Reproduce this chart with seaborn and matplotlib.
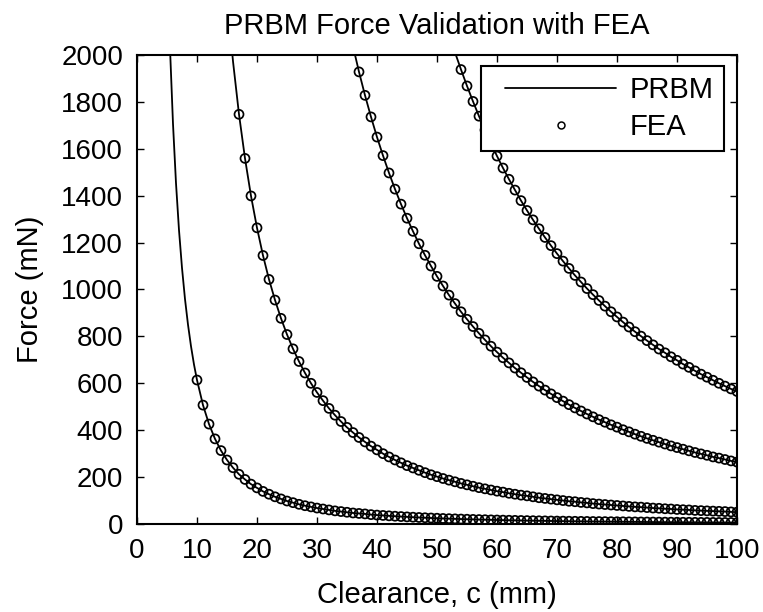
import numpy as np
import pandas as pd
import matplotlib
matplotlib.use("Agg")
import matplotlib.pyplot as plt
import seaborn as sns
from matplotlib.lines import Line2D
from matplotlib.legend_handler import HandlerLine2D

# ---------------- data ----------------
# Curve 1: clearance 5..100 mm (half steps where the curve is steep)
c_curve1 = [5, 5.5, 6, 6.5, 7, 7.5, 8, 8.5, 9, 9.5] + list(range(10, 101))
f_curve1 = [2456, 2030, 1706, 1453, 1253, 1092, 959, 850, 758, 680,
            614, 507, 426, 363, 313, 273, 240, 212, 190, 170,
            154, 139, 127, 116, 107, 98, 91, 84, 78, 73, 68, 64, 60, 56, 53, 50, 47, 45,
            43, 40, 38, 36.5, 34.8, 33.2, 31.7, 30.3, 29.0, 27.8, 26.6, 25.6, 24.6, 23.6,
            22.7, 21.9, 21.1, 20.3, 19.6, 18.9, 18.3, 17.6, 17.1, 16.5, 16.0, 15.5, 15.0,
            14.5, 14.1, 13.7, 13.3, 12.9, 12.5, 12.2, 11.8, 11.5, 11.2, 10.9, 10.6, 10.4,
            10.1, 9.8, 9.6, 9.4, 9.1, 8.9, 8.7, 8.5, 8.3, 8.1, 7.9, 7.8, 7.6, 7.4, 7.3,
            7.1, 6.9, 6.8, 6.7, 6.5, 6.4, 6.3, 6.1]

# Curve 2: clearance 15..100 mm
c_curve2 = list(range(15, 101))
f_curve2 = [2244, 1973, 1747, 1559, 1399, 1263, 1145, 1043, 955, 877, 808, 747, 693, 644,
            600, 561, 526, 493, 464, 437, 412, 390, 369, 350, 332, 316, 300, 286, 273, 261,
            249, 239, 229, 219, 210, 202, 194, 187, 180, 173, 167, 161, 155, 150, 145, 140,
            136, 131, 127, 123, 120, 116, 112, 109, 106, 103, 100, 97, 95, 92, 90, 87, 85,
            83, 81, 79, 77, 75, 73, 72, 70, 68, 67, 65, 64, 62, 61, 60, 58, 57, 56, 55, 54,
            53, 51.5, 50.5]

# Curve 3: clearance 36..100 mm
c_curve3 = list(range(36, 101))
f_curve3 = [2037, 1928, 1828, 1736, 1650, 1571, 1497, 1428, 1364, 1304, 1248, 1195, 1146,
            1100, 1056, 1015, 976, 940, 905, 873, 842, 813, 785, 758, 733, 709, 687, 665,
            645, 625, 606, 588, 571, 555, 539, 524, 509, 495, 482, 469, 457, 445, 434, 423,
            413, 402, 393, 383, 374, 365, 357, 349, 341, 333, 326, 319, 312, 305, 299, 293,
            286, 281, 275, 269, 264]

# Curve 4: clearance 52..100 mm
c_curve4 = list(range(52, 101))
f_curve4 = [2090, 2011, 1938, 1868, 1802, 1739, 1680, 1623, 1569, 1518, 1470, 1424, 1379,
            1337, 1297, 1259, 1222, 1187, 1153, 1121, 1090, 1060, 1032, 1004, 978, 953,
            929, 905, 883, 861, 840, 820, 801, 782, 764, 746, 730, 713, 698, 682, 668, 653,
            639, 626, 613, 600, 588, 576, 565]

# first clearance with an FEA sample for each curve (FEA sampled every 1 mm)
fea_start = [10, 17, 37, 54]

curves = [(c_curve1, f_curve1), (c_curve2, f_curve2), (c_curve3, f_curve3), (c_curve4, f_curve4)]

x_ticks = [0, 10, 20, 30, 40, 50, 60, 70, 80, 90, 100]
y_ticks = [0, 200, 400, 600, 800, 1000, 1200, 1400, 1600, 1800, 2000]

# ---------------- plot ----------------
sns.set_style("ticks")
plt.rcParams['font.family'] = ['Liberation Sans', 'DejaVu Sans']
plt.rcParams['text.color'] = 'black'
plt.rcParams['axes.labelcolor'] = 'black'

fig = plt.figure(figsize=(7.63, 6.12), dpi=100)
ax = fig.add_axes([137 / 763, 1 - 524 / 612, 600 / 763, 469 / 612])

for (cx, fy), start in zip(curves, fea_start):
    df = pd.DataFrame({"c": cx, "F": fy})
    sns.lineplot(data=df, x="c", y="F", ax=ax, color="black", linewidth=1.3,
                 legend=False, zorder=2)
    fea = df[(df["c"] >= start) & (df["c"] % 1 == 0)]
    sns.scatterplot(data=fea, x="c", y="F", ax=ax, marker="o", s=42,
                    facecolor="none", edgecolor="black", linewidth=1.25,
                    legend=False, zorder=3)

ax.set_xlim(0, 100)
ax.set_ylim(0, 2000)
ax.set_xticks(x_ticks)
ax.set_yticks(y_ticks)
ax.tick_params(direction="in", length=5, width=1, top=True, right=True,
               labelsize=20, pad=10, colors="black", labelcolor="black")
for sp in ax.spines.values():
    sp.set_visible(True)
    sp.set_linewidth(1.5)
    sp.set_color("black")

ax.set_xlabel("Clearance, c (mm)", fontsize=21, labelpad=12, color="black")
ax.set_ylabel("Force (mN)", fontsize=21, labelpad=12, color="black")
ax.set_title("PRBM Force Validation with FEA", fontsize=21, pad=15, color="black")

handles = [Line2D([0], [0], color="black", linewidth=1.3, label="PRBM"),
           Line2D([0], [0], color="black", linestyle="none", marker="o", markersize=5,
                  markerfacecolor="none", markeredgewidth=1.1, label="FEA")]
leg = ax.legend(handles=handles, loc="upper right", fontsize=21, frameon=True,
                fancybox=False, framealpha=1, edgecolor="black", handlelength=4.28,
                labelspacing=0.3, borderpad=0.35, handletextpad=0.45,
                borderaxespad=0, bbox_to_anchor=(0.978, 0.9765),
                handler_map={Line2D: HandlerLine2D(xpad=0.45)})
leg.get_frame().set_linewidth(1.5)
for t in leg.get_texts():
    t.set_color("black")

fig.savefig("out.png", dpi=100)
